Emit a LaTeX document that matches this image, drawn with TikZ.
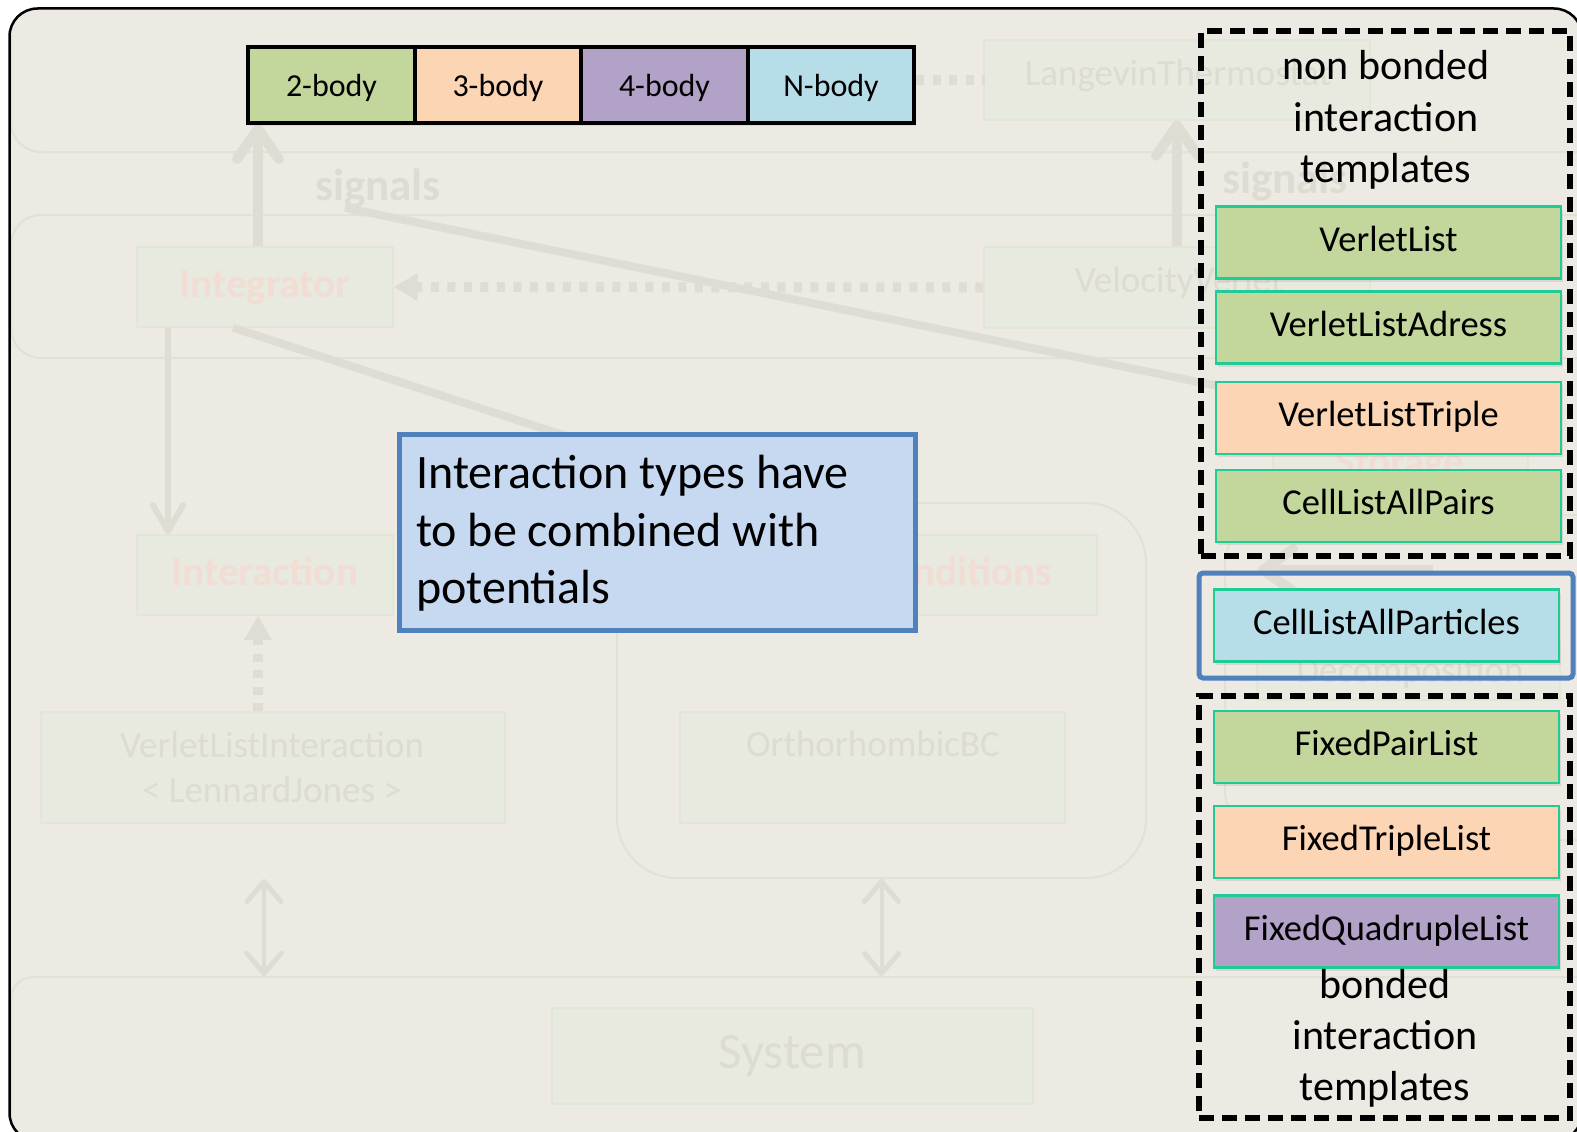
\documentclass[tikz,border=0pt]{standalone}
\usepackage{fontspec}
\setmainfont{Carlito}
\usetikzlibrary{arrows.meta,calc,shadows}

% palette
\definecolor{bgbeige}{RGB}{236,234,226}
\definecolor{fadeline}{RGB}{223,220,211}
\definecolor{fadebandline}{RGB}{227,224,213}
\definecolor{fadeboxfill}{RGB}{232,233,223}
\definecolor{fadeboxline}{RGB}{225,231,215}
\definecolor{fadered}{RGB}{242,221,212}
\definecolor{fadegrey}{RGB}{221,219,210}
\definecolor{twobody}{HTML}{C3D69B}
\definecolor{threebody}{HTML}{FCD5B5}
\definecolor{fourbody}{HTML}{B3A2C7}
\definecolor{manybody}{HTML}{B7DEE8}
\definecolor{calloutfill}{HTML}{C6D9F1}
\definecolor{calloutline}{HTML}{4F81BD}
\definecolor{itemline}{RGB}{32,204,150}

\begin{document}
\begin{tikzpicture}[x=1pt,y=-1pt,
  fadebox/.style={draw=fadeboxline, fill=fadeboxfill, line width=1.5pt, inner sep=0pt},
  fadetext/.style={text=fadegrey, inner sep=0pt, font=\fontsize{37}{45}\selectfont},
  faderedtext/.style={text=fadered, inner sep=0pt, font=\bfseries\fontsize{41}{50}\selectfont},
  fadesignal/.style={text=fadegrey, inner sep=0pt, font=\bfseries\fontsize{45}{54}\selectfont},
  fadeband/.style={draw=fadebandline, line width=2pt},
  fadeup/.style={draw=fadeline, line width=10pt,
    -{Straight Barb[length=30pt, width=42pt, line width=10pt, round]}},
  fadedown/.style={draw=fadeline, line width=6pt,
    -{Straight Barb[length=26pt, width=30pt, line width=6pt, round]}},
  fadedotted/.style={draw=fadeline, line width=10pt, dash pattern=on 8pt off 8.5pt,
    -{Triangle[length=24pt, width=26pt]}},
  fadedotline/.style={draw=fadeline, line width=10pt, dash pattern=on 8pt off 8.5pt},
  fadeboth/.style={draw=fadeline, line width=4pt,
    {Straight Barb[length=20pt, width=34pt, line width=5pt, round]}-{Straight Barb[length=20pt, width=34pt, line width=5pt, round]}},
  bodybox/.style={draw=black, line width=4pt, minimum width=166.5pt, minimum height=76pt,
    inner sep=0pt, font=\fontsize{32}{38}\selectfont, text height=24pt, text depth=1.6pt,
    drop shadow={shadow xshift=1.5pt, shadow yshift=-3pt, opacity=0.15}},
  itembox/.style={draw=itemline, line width=2.5pt, minimum width=345pt, minimum height=72pt,
    inner sep=0pt, font=\fontsize{36.5}{44}\selectfont, text height=22pt, text depth=5pt,
    drop shadow={shadow xshift=1.5pt, shadow yshift=-3pt, opacity=0.18}},
  dashframe/.style={draw=black, line width=5.5pt, dash pattern=on 15pt off 8pt, inner sep=0pt},
  heading/.style={inner sep=0pt, font=\fontsize{42}{51}\selectfont},
  callouttext/.style={inner sep=0pt, font=\fontsize{48}{58}\selectfont}
]

\useasboundingbox (0,0) rectangle (1577,1132);
\fill[white] (0,0) rectangle (1577,1132);
\fill[bgbeige, rounded corners=28pt] (9.5,8.5) rectangle (1582,1141);

% ---------- faded architecture sketch in the background ----------
\begin{scope}
\clip[rounded corners=28pt] (9.5,8.5) rectangle (1582,1141);

% layer bands
\draw[fadeband, rounded corners=30pt] (11,-60) rectangle (1640,152);
\draw[fadeband, rounded corners=30pt] (11,215) rectangle (1640,358);
\draw[fadeband, rounded corners=22pt] (11,977) rectangle (1640,1220);
\draw[fadeband, rounded corners=50pt] (1225,515) rectangle (1640,840);
\coordinate (bandtop) at (0,976);
\coordinate (stripbase) at (0,124);

% component boxes
\node[fadebox, minimum width=386pt, minimum height=80pt] (langevin) at (1177,80) {};
\node[fadebox, minimum width=386pt, minimum height=81pt] (velver) at (1177,287.5) {};
\node[fadebox, minimum width=256pt, minimum height=80pt] (integ) at (265,287) {};
\node[fadebox, minimum width=256pt, minimum height=80pt] (inter) at (265,575) {};
\node[draw=fadebandline, line width=2pt, rounded corners=60pt, minimum width=529pt,
      minimum height=375pt, inner sep=0pt] (region) at (881.5,690.5) {};
\node[fadebox, minimum width=457pt, minimum height=80pt] (cond) at (868.5,575) {};
\node[fadebox, minimum width=385pt, minimum height=111pt] (ortho) at (872.5,767.5) {};
\node[fadebox, minimum width=464pt, minimum height=111pt] (vlint) at (273,767.5) {};
\node[fadebox, minimum width=481pt, minimum height=96pt] (system) at (792.5,1056) {};
\node[fadebox, minimum width=255pt, minimum height=80pt] (storage) at (1400.5,464) {};
\node[fadebox, minimum width=303pt, minimum height=56pt] (decomp) at (1408.5,672) {};

% component names
\node[fadetext, anchor=base] (langevintxt) at (1178,85) {LangevinThermostat};
\node[fadetext, anchor=base] (velvertxt) at (1179,292) {VelocityVerlet};
\node[faderedtext, anchor=base] (integtxt) at (265,297) {Integrator};
\node[faderedtext, anchor=base] (intertxt) at (265,585) {Interaction};
\node[faderedtext, anchor=base east] (condtxt) at (1052,585) {Conditions};
\node[fadetext, anchor=base] (orthotxt) at (873,756) {OrthorhombicBC};
\node[fadetext, anchor=base] (vlinttxt) at (272,757) {VerletListInteraction};
\node[fadetext, anchor=base] (ljtxt) at (272,802) {< LennardJones >};
\node[fadetext, anchor=base, font=\fontsize{51}{60}\selectfont] (systemtxt) at (792,1068) {System};
\node[faderedtext, anchor=base] (storagetxt) at (1400,475) {Storage};
\node[fadetext, anchor=base] (decomptxt) at (1410,682) {Decomposition};
\node[fadesignal, anchor=base] (sig1) at (378,200) {signals};
\node[fadesignal, anchor=base] (sig2) at (1285,193) {signals};

% connectors
\draw[fadeup] ([xshift=-7pt]integ.north) -- ([xshift=-7pt]integ.north |- stripbase);
\draw[fadeup] (velver.north) -- (langevin.south);
\draw[fadedotted] (velver.west) -- (integ.east);
\draw[fadedown] ([xshift=-97pt]integ.south) -- ([xshift=-97pt]inter.north);
\draw[fadedotted] ([xshift=-15pt]vlint.north) -- ([xshift=-15pt]vlint.north |- inter.south);
\draw[fadeboth] ([xshift=-9pt]vlint.south |- region.south) -- ([xshift=-9pt]vlint.south |- bandtop);
\draw[fadeboth] (region.south) -- (region.south |- bandtop);
\draw[fadeline, line width=8pt] ([xshift=30pt]sig1.south west) -- (storage.north);
\draw[fadeline, line width=8pt] ([xshift=-32pt]integ.south) -- (cond.north);
\coordinate (decompfrom) at (1433,570);
\coordinate (decompto) at (1258,570);
\draw[fadeup] (decompfrom) -- (decompto);
\end{scope}

\draw[black, line width=2.5pt, rounded corners=28pt] (9.5,8.5) rectangle (1582,1141);

% ---------- interaction arity strip ----------
\node[bodybox, fill=twobody] (body2) at (331.5,85) {2-body};
\node[bodybox, fill=threebody] (body3) at (498,85) {3-body};
\node[bodybox, fill=fourbody] (body4) at (664.5,85) {4-body};
\node[bodybox, fill=manybody] (nbody) at (831,85) {N-body};
\draw[fadedotline] (langevin.west -| nbody.east) -- ([xshift=2pt]langevin.west);

% ---------- callout ----------
\node[draw=calloutline, fill=calloutfill, line width=5pt, minimum width=516pt,
      minimum height=196pt, inner sep=0pt,
      drop shadow={shadow xshift=1.5pt, shadow yshift=-3pt, opacity=0.15}] (callout) at (657,532) {};
\node[callouttext, anchor=base west] (co1) at (416,488) {Interaction types have};
\node[callouttext, anchor=base west] (co2) at (416,546) {to be combined with};
\node[callouttext, anchor=base west] (co3) at (416,603) {potentials};

% ---------- non bonded templates ----------
\node[dashframe, minimum width=369pt, minimum height=525pt] (nbframe) at (1385.5,293.5) {};
\node[heading, anchor=base] (nb1) at (1386,79) {non bonded};
\node[heading, anchor=base] (nb2) at (1386,131) {interaction};
\node[heading, anchor=base] (nb3) at (1386,182) {templates};
\node[itembox, fill=twobody] (vl) at (1388.5,242.5) {VerletList};
\node[itembox, fill=twobody] (vla) at (1388.5,327.5) {VerletListAdress};
\node[itembox, fill=threebody] (vlt) at (1388.5,418) {VerletListTriple};
\node[itembox, fill=twobody] (clap) at (1388.5,506) {CellListAllPairs};

% ---------- all particles ----------
\node[draw=calloutline, line width=5pt, rounded corners=4pt, minimum width=374pt,
      minimum height=105pt, inner sep=0pt] (allframe) at (1386,625.5) {};
\node[itembox, fill=manybody] (clapt) at (1386.5,625.5) {CellListAllParticles};

% ---------- bonded templates ----------
\node[dashframe, minimum width=371pt, minimum height=422pt] (bdframe) at (1384.5,907) {};
\node[itembox, fill=twobody] (fpl) at (1386.5,747) {FixedPairList};
\node[itembox, fill=threebody] (ftl) at (1386.5,842) {FixedTripleList};
\node[itembox, fill=fourbody] (fql) at (1386.5,931.5) {FixedQuadrupleList};
\node[heading, anchor=base] (bd1) at (1385,998) {bonded};
\node[heading, anchor=base] (bd2) at (1385,1049) {interaction};
\node[heading, anchor=base] (bd3) at (1385,1100) {templates};
\end{tikzpicture}
\end{document}
